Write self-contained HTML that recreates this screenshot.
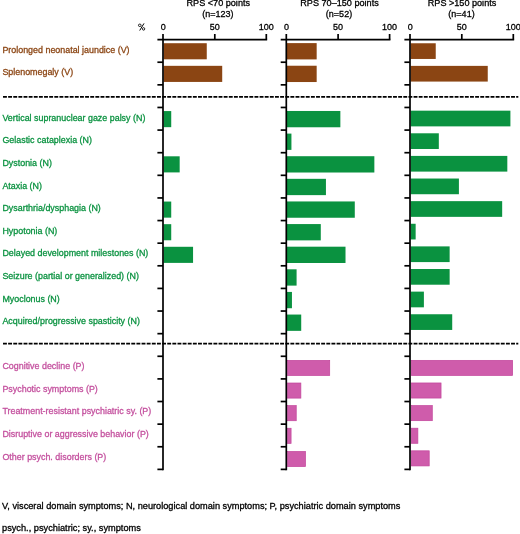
<!DOCTYPE html>
<html><head><meta charset="utf-8"><title>Chart</title>
<style>
html,body{margin:0;padding:0;background:#fff;}
body{width:520px;height:534px;overflow:hidden;font-family:"Liberation Sans",sans-serif;}
svg{will-change:transform;display:block;position:absolute;left:0;top:0;}
svg text{font-family:"Liberation Sans",sans-serif;}
.tk{fill:#000;stroke:#000;text-anchor:middle;}
.tt{fill:#000;stroke:#000;text-anchor:middle;}
.ft{fill:#000;stroke:#000;}
svg text{stroke-width:0.3px;}
</style></head><body>
<svg width="520" height="534" viewBox="0 0 520 534">
<rect x="0" y="0" width="520" height="534" fill="#ffffff"/>
<rect x="163.55" y="43.21" width="43.21" height="16.10" fill="#8B4513"/>
<rect x="163.55" y="65.83" width="58.66" height="16.10" fill="#8B4513"/>
<rect x="163.55" y="111.07" width="7.68" height="16.10" fill="#0A9240"/>
<rect x="163.55" y="156.31" width="16.12" height="16.10" fill="#0A9240"/>
<rect x="163.55" y="201.55" width="7.68" height="16.10" fill="#0A9240"/>
<rect x="163.55" y="224.17" width="7.68" height="16.10" fill="#0A9240"/>
<rect x="163.55" y="246.79" width="29.51" height="16.10" fill="#0A9240"/>
<rect x="286.85" y="43.11" width="29.82" height="16.30" fill="#8B4513"/>
<rect x="286.85" y="65.73" width="29.82" height="16.30" fill="#8B4513"/>
<rect x="286.85" y="110.97" width="53.51" height="16.30" fill="#0A9240"/>
<rect x="286.85" y="133.59" width="4.58" height="16.30" fill="#0A9240"/>
<rect x="286.85" y="156.21" width="87.50" height="16.30" fill="#0A9240"/>
<rect x="286.85" y="178.83" width="39.09" height="16.30" fill="#0A9240"/>
<rect x="286.85" y="201.45" width="67.93" height="16.30" fill="#0A9240"/>
<rect x="286.85" y="224.07" width="33.94" height="16.30" fill="#0A9240"/>
<rect x="286.85" y="246.69" width="58.66" height="16.30" fill="#0A9240"/>
<rect x="286.85" y="269.31" width="9.74" height="16.30" fill="#0A9240"/>
<rect x="286.85" y="291.93" width="5.10" height="16.30" fill="#0A9240"/>
<rect x="286.85" y="314.55" width="14.37" height="16.30" fill="#0A9240"/>
<rect x="287.60" y="360.39" width="42.11" height="15.10" fill="#CF5CAB" stroke="#C2449B" stroke-width="0.7"/>
<rect x="287.60" y="383.01" width="13.27" height="15.10" fill="#CF5CAB" stroke="#C2449B" stroke-width="0.7"/>
<rect x="287.60" y="405.63" width="8.63" height="15.10" fill="#CF5CAB" stroke="#C2449B" stroke-width="0.7"/>
<rect x="287.60" y="428.25" width="3.48" height="15.10" fill="#CF5CAB" stroke="#C2449B" stroke-width="0.7"/>
<rect x="287.60" y="451.47" width="17.90" height="15.10" fill="#CF5CAB" stroke="#C2449B" stroke-width="0.7"/>
<rect x="410.55" y="43.26" width="25.19" height="15.70" fill="#8B4513"/>
<rect x="410.55" y="65.88" width="77.20" height="15.70" fill="#8B4513"/>
<rect x="410.55" y="110.67" width="99.86" height="15.70" fill="#0A9240"/>
<rect x="410.55" y="133.29" width="28.27" height="15.70" fill="#0A9240"/>
<rect x="410.55" y="155.91" width="96.77" height="15.70" fill="#0A9240"/>
<rect x="410.55" y="178.53" width="48.36" height="15.70" fill="#0A9240"/>
<rect x="410.55" y="201.15" width="91.62" height="15.70" fill="#0A9240"/>
<rect x="410.55" y="223.77" width="5.10" height="15.70" fill="#0A9240"/>
<rect x="410.55" y="246.39" width="39.09" height="15.70" fill="#0A9240"/>
<rect x="410.55" y="269.01" width="39.09" height="15.70" fill="#0A9240"/>
<rect x="410.55" y="291.63" width="13.34" height="15.70" fill="#0A9240"/>
<rect x="410.55" y="314.25" width="41.67" height="15.70" fill="#0A9240"/>
<rect x="411.30" y="360.34" width="101.33" height="15.10" fill="#CF5CAB" stroke="#C2449B" stroke-width="0.7"/>
<rect x="411.30" y="382.96" width="29.75" height="15.10" fill="#CF5CAB" stroke="#C2449B" stroke-width="0.7"/>
<rect x="411.30" y="405.58" width="20.99" height="15.10" fill="#CF5CAB" stroke="#C2449B" stroke-width="0.7"/>
<rect x="411.30" y="428.20" width="6.57" height="15.10" fill="#CF5CAB" stroke="#C2449B" stroke-width="0.7"/>
<rect x="411.30" y="450.82" width="17.90" height="15.10" fill="#CF5CAB" stroke="#C2449B" stroke-width="0.7"/>
<line x1="3" y1="96.9" x2="518.3" y2="96.9" stroke="#000" stroke-width="1.75" stroke-dasharray="3.9 1.232"/>
<line x1="3" y1="343.5" x2="518.3" y2="343.5" stroke="#000" stroke-width="1.75" stroke-dasharray="3.9 1.232"/>
<line x1="163.0" y1="34.00" x2="163.0" y2="470.23" stroke="#000" stroke-width="1.7"/>
<line x1="157.40" y1="39.6" x2="267.15" y2="39.6" stroke="#000" stroke-width="1.7"/>
<line x1="214.80" y1="34.00" x2="214.80" y2="39.60" stroke="#000" stroke-width="1.7"/>
<line x1="266.30" y1="34.00" x2="266.30" y2="39.60" stroke="#000" stroke-width="1.7"/>
<line x1="157.40" y1="62.22" x2="163.00" y2="62.22" stroke="#000" stroke-width="1.7"/>
<line x1="157.40" y1="84.84" x2="163.00" y2="84.84" stroke="#000" stroke-width="1.7"/>
<line x1="157.40" y1="107.46" x2="163.00" y2="107.46" stroke="#000" stroke-width="1.7"/>
<line x1="157.40" y1="130.08" x2="163.00" y2="130.08" stroke="#000" stroke-width="1.7"/>
<line x1="157.40" y1="152.70" x2="163.00" y2="152.70" stroke="#000" stroke-width="1.7"/>
<line x1="157.40" y1="175.32" x2="163.00" y2="175.32" stroke="#000" stroke-width="1.7"/>
<line x1="157.40" y1="197.94" x2="163.00" y2="197.94" stroke="#000" stroke-width="1.7"/>
<line x1="157.40" y1="220.56" x2="163.00" y2="220.56" stroke="#000" stroke-width="1.7"/>
<line x1="157.40" y1="243.18" x2="163.00" y2="243.18" stroke="#000" stroke-width="1.7"/>
<line x1="157.40" y1="265.80" x2="163.00" y2="265.80" stroke="#000" stroke-width="1.7"/>
<line x1="157.40" y1="288.42" x2="163.00" y2="288.42" stroke="#000" stroke-width="1.7"/>
<line x1="157.40" y1="311.04" x2="163.00" y2="311.04" stroke="#000" stroke-width="1.7"/>
<line x1="157.40" y1="333.66" x2="163.00" y2="333.66" stroke="#000" stroke-width="1.7"/>
<line x1="157.40" y1="356.28" x2="163.00" y2="356.28" stroke="#000" stroke-width="1.7"/>
<line x1="157.40" y1="378.90" x2="163.00" y2="378.90" stroke="#000" stroke-width="1.7"/>
<line x1="157.40" y1="401.52" x2="163.00" y2="401.52" stroke="#000" stroke-width="1.7"/>
<line x1="157.40" y1="424.14" x2="163.00" y2="424.14" stroke="#000" stroke-width="1.7"/>
<line x1="157.40" y1="446.76" x2="163.00" y2="446.76" stroke="#000" stroke-width="1.7"/>
<line x1="157.40" y1="469.38" x2="163.00" y2="469.38" stroke="#000" stroke-width="1.7"/>
<text class="tk" transform="translate(163.30,30.40) scale(0.947,1)" font-size="9.5">0</text>
<text class="tk" transform="translate(214.80,30.40) scale(0.947,1)" font-size="9.5">50</text>
<text class="tk" transform="translate(266.30,30.40) scale(0.947,1)" font-size="9.5">100</text>
<text class="tt" transform="translate(218.30,5.90) scale(0.965,1)" font-size="9.45">RPS &lt;70 points</text>
<text class="tt" transform="translate(217.80,17.30) scale(0.955,1)" font-size="9.45">(n=123)</text>
<line x1="286.3" y1="34.00" x2="286.3" y2="470.23" stroke="#000" stroke-width="1.7"/>
<line x1="280.70" y1="39.6" x2="390.45" y2="39.6" stroke="#000" stroke-width="1.7"/>
<line x1="338.10" y1="34.00" x2="338.10" y2="39.60" stroke="#000" stroke-width="1.7"/>
<line x1="389.60" y1="34.00" x2="389.60" y2="39.60" stroke="#000" stroke-width="1.7"/>
<line x1="280.70" y1="62.22" x2="286.30" y2="62.22" stroke="#000" stroke-width="1.7"/>
<line x1="280.70" y1="84.84" x2="286.30" y2="84.84" stroke="#000" stroke-width="1.7"/>
<line x1="280.70" y1="107.46" x2="286.30" y2="107.46" stroke="#000" stroke-width="1.7"/>
<line x1="280.70" y1="130.08" x2="286.30" y2="130.08" stroke="#000" stroke-width="1.7"/>
<line x1="280.70" y1="152.70" x2="286.30" y2="152.70" stroke="#000" stroke-width="1.7"/>
<line x1="280.70" y1="175.32" x2="286.30" y2="175.32" stroke="#000" stroke-width="1.7"/>
<line x1="280.70" y1="197.94" x2="286.30" y2="197.94" stroke="#000" stroke-width="1.7"/>
<line x1="280.70" y1="220.56" x2="286.30" y2="220.56" stroke="#000" stroke-width="1.7"/>
<line x1="280.70" y1="243.18" x2="286.30" y2="243.18" stroke="#000" stroke-width="1.7"/>
<line x1="280.70" y1="265.80" x2="286.30" y2="265.80" stroke="#000" stroke-width="1.7"/>
<line x1="280.70" y1="288.42" x2="286.30" y2="288.42" stroke="#000" stroke-width="1.7"/>
<line x1="280.70" y1="311.04" x2="286.30" y2="311.04" stroke="#000" stroke-width="1.7"/>
<line x1="280.70" y1="333.66" x2="286.30" y2="333.66" stroke="#000" stroke-width="1.7"/>
<line x1="280.70" y1="356.28" x2="286.30" y2="356.28" stroke="#000" stroke-width="1.7"/>
<line x1="280.70" y1="378.90" x2="286.30" y2="378.90" stroke="#000" stroke-width="1.7"/>
<line x1="280.70" y1="401.52" x2="286.30" y2="401.52" stroke="#000" stroke-width="1.7"/>
<line x1="280.70" y1="424.14" x2="286.30" y2="424.14" stroke="#000" stroke-width="1.7"/>
<line x1="280.70" y1="446.76" x2="286.30" y2="446.76" stroke="#000" stroke-width="1.7"/>
<line x1="280.70" y1="469.38" x2="286.30" y2="469.38" stroke="#000" stroke-width="1.7"/>
<text class="tk" transform="translate(286.60,30.40) scale(0.947,1)" font-size="9.5">0</text>
<text class="tk" transform="translate(338.10,30.40) scale(0.947,1)" font-size="9.5">50</text>
<text class="tk" transform="translate(389.60,30.40) scale(0.947,1)" font-size="9.5">100</text>
<text class="tt" transform="translate(339.50,5.90) scale(0.965,1)" font-size="9.45">RPS 70–150 points</text>
<text class="tt" transform="translate(339.00,17.30) scale(0.955,1)" font-size="9.45">(n=52)</text>
<line x1="410.0" y1="34.00" x2="410.0" y2="470.23" stroke="#000" stroke-width="1.7"/>
<line x1="404.40" y1="39.6" x2="514.15" y2="39.6" stroke="#000" stroke-width="1.7"/>
<line x1="461.80" y1="34.00" x2="461.80" y2="39.60" stroke="#000" stroke-width="1.7"/>
<line x1="513.30" y1="34.00" x2="513.30" y2="39.60" stroke="#000" stroke-width="1.7"/>
<line x1="404.40" y1="62.22" x2="410.00" y2="62.22" stroke="#000" stroke-width="1.7"/>
<line x1="404.40" y1="84.84" x2="410.00" y2="84.84" stroke="#000" stroke-width="1.7"/>
<line x1="404.40" y1="107.46" x2="410.00" y2="107.46" stroke="#000" stroke-width="1.7"/>
<line x1="404.40" y1="130.08" x2="410.00" y2="130.08" stroke="#000" stroke-width="1.7"/>
<line x1="404.40" y1="152.70" x2="410.00" y2="152.70" stroke="#000" stroke-width="1.7"/>
<line x1="404.40" y1="175.32" x2="410.00" y2="175.32" stroke="#000" stroke-width="1.7"/>
<line x1="404.40" y1="197.94" x2="410.00" y2="197.94" stroke="#000" stroke-width="1.7"/>
<line x1="404.40" y1="220.56" x2="410.00" y2="220.56" stroke="#000" stroke-width="1.7"/>
<line x1="404.40" y1="243.18" x2="410.00" y2="243.18" stroke="#000" stroke-width="1.7"/>
<line x1="404.40" y1="265.80" x2="410.00" y2="265.80" stroke="#000" stroke-width="1.7"/>
<line x1="404.40" y1="288.42" x2="410.00" y2="288.42" stroke="#000" stroke-width="1.7"/>
<line x1="404.40" y1="311.04" x2="410.00" y2="311.04" stroke="#000" stroke-width="1.7"/>
<line x1="404.40" y1="333.66" x2="410.00" y2="333.66" stroke="#000" stroke-width="1.7"/>
<line x1="404.40" y1="356.28" x2="410.00" y2="356.28" stroke="#000" stroke-width="1.7"/>
<line x1="404.40" y1="378.90" x2="410.00" y2="378.90" stroke="#000" stroke-width="1.7"/>
<line x1="404.40" y1="401.52" x2="410.00" y2="401.52" stroke="#000" stroke-width="1.7"/>
<line x1="404.40" y1="424.14" x2="410.00" y2="424.14" stroke="#000" stroke-width="1.7"/>
<line x1="404.40" y1="446.76" x2="410.00" y2="446.76" stroke="#000" stroke-width="1.7"/>
<line x1="404.40" y1="469.38" x2="410.00" y2="469.38" stroke="#000" stroke-width="1.7"/>
<text class="tk" transform="translate(410.30,30.40) scale(0.947,1)" font-size="9.5">0</text>
<text class="tk" transform="translate(461.80,30.40) scale(0.947,1)" font-size="9.5">50</text>
<text class="tk" transform="translate(513.30,30.40) scale(0.947,1)" font-size="9.5">100</text>
<text class="tt" transform="translate(462.00,5.90) scale(0.965,1)" font-size="9.45">RPS &gt;150 points</text>
<text class="tt" transform="translate(461.50,17.30) scale(0.955,1)" font-size="9.45">(n=41)</text>
<g fill="none" stroke="#000" stroke-width="0.85"><ellipse cx="139.8" cy="25.3" rx="1.35" ry="1.25"/><ellipse cx="143.6" cy="28.9" rx="1.15" ry="1.3"/><line x1="144.0" y1="23.4" x2="139.7" y2="30.5" stroke-width="1.0"/></g>
<text class="lab" transform="translate(2.40,52.86) scale(0.946,1)" font-size="9.42" fill="#8B4513" stroke="#8B4513">Prolonged neonatal jaundice (V)</text>
<text class="lab" transform="translate(2.40,75.48) scale(0.946,1)" font-size="9.42" fill="#8B4513" stroke="#8B4513">Splenomegaly (V)</text>
<text class="lab" transform="translate(2.40,120.72) scale(0.946,1)" font-size="9.42" fill="#0A9240" stroke="#0A9240">Vertical supranuclear gaze palsy (N)</text>
<text class="lab" transform="translate(2.40,143.34) scale(0.946,1)" font-size="9.42" fill="#0A9240" stroke="#0A9240">Gelastic cataplexia (N)</text>
<text class="lab" transform="translate(2.40,165.96) scale(0.946,1)" font-size="9.42" fill="#0A9240" stroke="#0A9240">Dystonia (N)</text>
<text class="lab" transform="translate(2.40,188.58) scale(0.946,1)" font-size="9.42" fill="#0A9240" stroke="#0A9240">Ataxia (N)</text>
<text class="lab" transform="translate(2.40,211.20) scale(0.946,1)" font-size="9.42" fill="#0A9240" stroke="#0A9240">Dysarthria/dysphagia (N)</text>
<text class="lab" transform="translate(2.40,233.82) scale(0.946,1)" font-size="9.42" fill="#0A9240" stroke="#0A9240">Hypotonia (N)</text>
<text class="lab" transform="translate(2.40,256.44) scale(0.946,1)" font-size="9.42" fill="#0A9240" stroke="#0A9240">Delayed development milestones (N)</text>
<text class="lab" transform="translate(2.40,279.06) scale(0.946,1)" font-size="9.42" fill="#0A9240" stroke="#0A9240">Seizure (partial or generalized) (N)</text>
<text class="lab" transform="translate(2.40,301.68) scale(0.946,1)" font-size="9.42" fill="#0A9240" stroke="#0A9240">Myoclonus (N)</text>
<text class="lab" transform="translate(2.40,324.30) scale(0.946,1)" font-size="9.42" fill="#0A9240" stroke="#0A9240">Acquired/progressive spasticity (N)</text>
<text class="lab" transform="translate(2.40,369.19) scale(0.946,1)" font-size="9.42" fill="#C4509E" stroke="#C4509E">Cognitive decline (P)</text>
<text class="lab" transform="translate(2.40,391.81) scale(0.946,1)" font-size="9.42" fill="#C4509E" stroke="#C4509E">Psychotic symptoms (P)</text>
<text class="lab" transform="translate(2.40,414.43) scale(0.946,1)" font-size="9.42" fill="#C4509E" stroke="#C4509E">Treatment-resistant psychiatric sy. (P)</text>
<text class="lab" transform="translate(2.40,437.05) scale(0.946,1)" font-size="9.42" fill="#C4509E" stroke="#C4509E">Disruptive or aggressive behavior (P)</text>
<text class="lab" transform="translate(2.40,459.67) scale(0.946,1)" font-size="9.42" fill="#C4509E" stroke="#C4509E">Other psych. disorders (P)</text>
<text class="ft" transform="translate(2.00,508.70) scale(0.9797,1)" font-size="9.4">V, visceral domain symptoms; N, neurological domain symptoms; P, psychiatric domain symptoms</text>
<text class="ft" transform="translate(2.00,531.20) scale(0.983,1)" font-size="9.4">psych., psychiatric; sy., symptoms</text>
</svg></body></html>
